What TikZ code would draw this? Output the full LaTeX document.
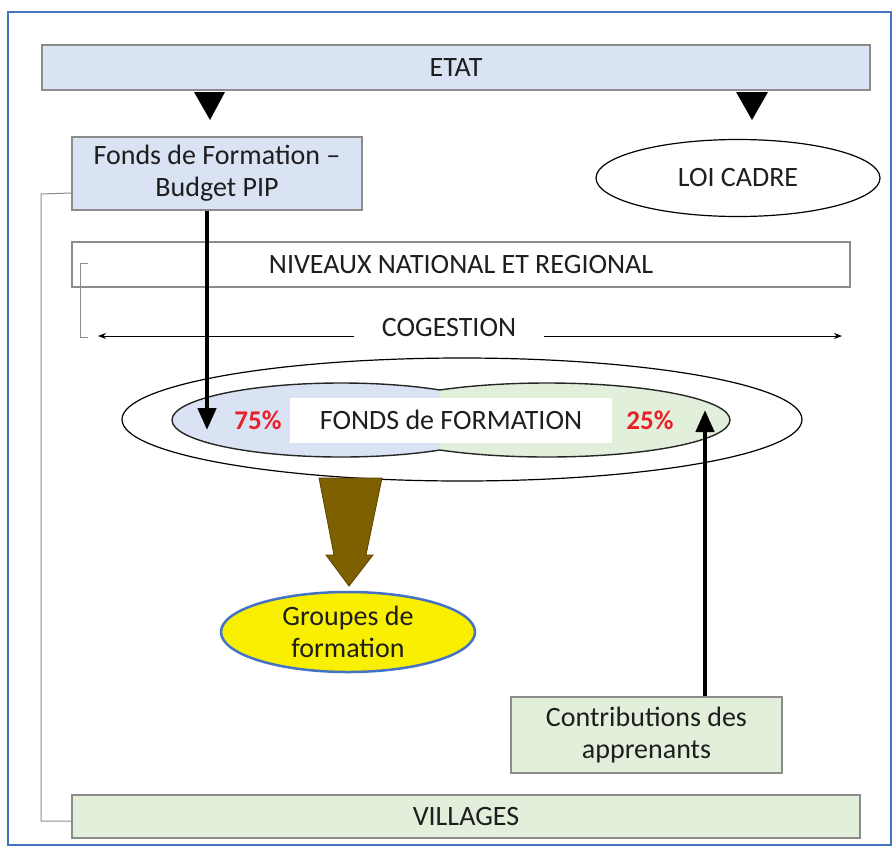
\documentclass[tikz,border=0pt]{standalone}
\usepackage{fontspec}
\setmainfont{Carlito}
\usetikzlibrary{arrows.meta,shapes.geometric,calc}
\definecolor{boxblue}{HTML}{DAE3F3}
\definecolor{boxgreen}{HTML}{E2EFDA}
\definecolor{edgegray}{HTML}{8C8C8C}
\definecolor{txt}{HTML}{1E1E1E}
\definecolor{pctred}{HTML}{E8202A}
\definecolor{brownarrow}{HTML}{7F6000}
\definecolor{frameblue}{HTML}{4472C4}
\definecolor{yellowfill}{HTML}{F8F000}
\begin{document}
\begin{tikzpicture}[x=1pt,y=-1pt,
  font=\fontsize{28}{32}\selectfont, text=txt,
  box/.style={draw=edgegray, line width=1.2pt, inner sep=0pt, align=center},
  blackarrow/.style={line width=4.5pt, -{Triangle[width=18pt,length=22pt]}},
  thin/.style={edgegray, line width=1pt},
  pct/.style={text=pctred, font=\fontsize{27}{32}\selectfont\bfseries}]
\useasboundingbox (0,0) rectangle (894,847);
\draw[frameblue, line width=2.5pt] (8,12) rectangle (891,845);

% top boxes
\node[box, fill=boxblue, minimum width=828pt, minimum height=45pt] (etat) at (456,67.5) {ETAT};
\node[box, fill=boxblue, minimum width=290pt, minimum height=73pt] (fonds) at (217,173.5) {Fonds de Formation --\\Budget PIP};
\node[draw=black, line width=1.2pt, ellipse, minimum width=284pt, minimum height=77pt, inner sep=0pt] (loi) at (738,178) {LOI CADRE};

% triangles below ETAT
\fill (194,92) -- (225,92) -- (210,120) -- cycle;
\fill (736,92) -- (768,92) -- (752,120) -- cycle;

% niveaux
\node[box, fill=white, minimum width=778pt, minimum height=45pt] (niv) at (461,264.5) {NIVEAUX NATIONAL ET REGIONAL};
\draw[thin] (88,263) -- (80,263) -- (80,337) -- (88,337);

% cogestion
\coordinate (cogL) at (98,336);
\coordinate (cogR) at (842,336);
\node[inner xsep=28pt, inner ysep=2pt] (cog) at (449,328) {COGESTION};
\draw[line width=0.9pt, -{Stealth[length=8pt,width=6pt]}] (cog.west |- cogL) -- (cogL);
\draw[line width=0.9pt, -{Stealth[length=8pt,width=6pt]}] (cog.east |- cogR) -- (cogR);

% outer ellipse
\node[draw=black, line width=1.2pt, ellipse, minimum width=680pt, minimum height=123pt, inner sep=0pt] (outer) at (462,419.5) {};

% inner two lobes
\begin{scope}
  \clip (100,350) rectangle (440,490);
  \fill[boxblue] (341,420) ellipse [x radius=169pt, y radius=37pt];
  \draw[black!85, line width=1.4pt] (341,420) ellipse [x radius=169pt, y radius=37pt];
\end{scope}
\begin{scope}
  \clip (440,350) rectangle (820,490);
  \fill[boxgreen] (547,420) ellipse [x radius=183pt, y radius=37pt];
  \draw[black!85, line width=1.4pt] (547,420) ellipse [x radius=183pt, y radius=37pt];
\end{scope}
\node[fill=white, minimum width=322pt, minimum height=45pt, inner sep=0pt] (ff) at (451,420) {FONDS de FORMATION};
\node[pct] (p75) at (258,420) {75\%};
\node[pct] (p25) at (650,420) {25\%};

% lower nodes
\node[draw=frameblue, line width=2.5pt, fill=yellowfill, ellipse, minimum width=254pt, minimum height=80pt, inner sep=0pt, align=center] (grp) at (348,632) {Groupes de\\formation};
\node[box, fill=boxgreen, minimum width=271pt, minimum height=76pt] (contrib) at (646.5,735) {Contributions des\\apprenants};
\node[box, fill=boxgreen, minimum width=788pt, minimum height=43pt] (vil) at (466,816.5) {VILLAGES};

% big gray bracket
\draw[thin] (fonds.west |- 0,193) -- (41,194) -- (41,821) -- (vil.west |- 0,821);

% black arrows
\coordinate (a1end) at (207,430);
\coordinate (a2end) at (705,410);
\draw[blackarrow] (fonds.south -| a1end) -- (a1end);
\draw[blackarrow] (contrib.north -| a2end) -- (a2end);

% brown block arrow
\filldraw[fill=brownarrow, draw=brownarrow!70!black, line width=0.8pt]
  (319,478) -- (382,478) -- (366,555) -- (373,555) -- (349,586) -- (326,555) -- (334,555) -- cycle;
\end{tikzpicture}
\end{document}
